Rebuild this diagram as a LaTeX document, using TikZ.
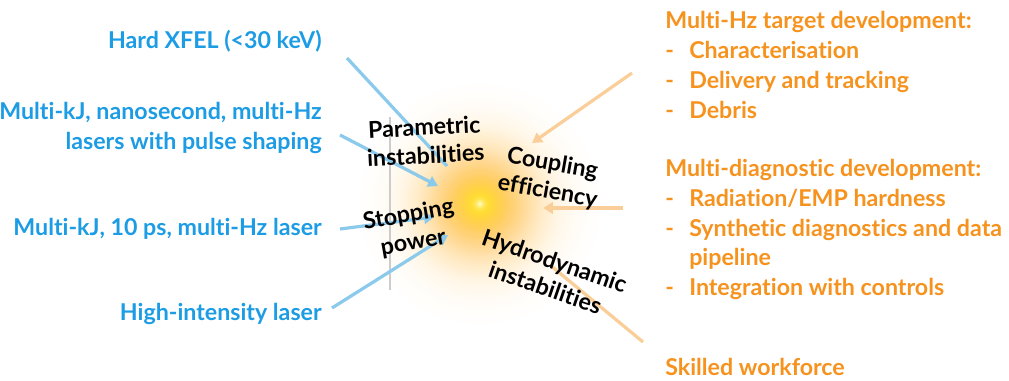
\documentclass[tikz,border=0pt]{standalone}
\usepackage{fontspec}
\setmainfont{Lato}[Ligatures=NoCommon]
\usetikzlibrary{arrows.meta}

\definecolor{labelblue}{RGB}{28,156,228}
\definecolor{beamblue}{RGB}{140,202,236}
\definecolor{labelorange}{RGB}{246,146,30}
\definecolor{beamorange}{RGB}{250,206,152}
\definecolor{glowcore}{RGB}{255,226,40}
\definecolor{glowedge}{RGB}{255,186,60}

\newcommand{\listdash}{\makebox[0.6cm][l]{-}}

\tikzset{
  driver/.style={font=\fontsize{16.5}{21.3}\selectfont\bfseries, text=labelblue,
    align=right, anchor=east, inner sep=0pt},
  need/.style={font=\fontsize{16.5}{21.3}\selectfont\bfseries, text=labelorange,
    align=left, anchor=west, inner sep=0pt},
  physics/.style={font=\fontsize{16.5}{20}\selectfont\bfseries, text=black,
    align=center, inner sep=0pt},
  bluebeam/.style={beamblue, line width=2.3pt},
  orangebeam/.style={beamorange, line width=2.3pt},
  beamtip/.style={-{Triangle[length=7pt,width=8pt]}}
}

\begin{document}
\begin{tikzpicture}[x=0.025cm, y=-0.025cm]
  \useasboundingbox (0,0) rectangle (1009,381);

  % hot spot: rings from the outside in, yellow core turning orange, white in the very middle
  \foreach \r in {120,118,...,2} {
    \pgfmathtruncatemacro\p{100*exp(-(\r/57)^2)*(1-0.75*exp(-(\r/5)^2))}
    \pgfmathtruncatemacro\q{100*exp(-(\r/22)^2)}
    \fill[glowcore!\q!glowedge!\p!white] (480,204) circle (\r);
  }
  \draw[gray!40, line width=0.9pt] (390,117) coordinate (axtop) -- (390,290) coordinate (axbot);

  % drivers (left)
  \node[driver] (xfel) at (322,41) {Hard XFEL (<30 keV)};
  \node[driver] (nslaser) at (322,128) {Multi-kJ, nanosecond, multi-Hz\\lasers with pulse shaping};
  \node[driver] (pslaser) at (322,229) {Multi-kJ, 10 ps, multi-Hz laser};
  \node[driver] (hilaser) at (322,314) {High-intensity laser};

  % needs (right)
  \node[need] (targets) at (665,65) {Multi-Hz target development:\\
    \listdash Characterisation\\\listdash Delivery and tracking\\\listdash Debris};
  \node[need] (diagnostics) at (665,229.5) {Multi-diagnostic development:\\
    \listdash Radiation/EMP hardness\\\listdash Synthetic diagnostics and data\\
    \hspace*{0.6cm}pipeline\\\listdash Integration with controls};
  \node[need] (workforce) at (665,367) {Skilled workforce};

  % beam ends
  \coordinate (xfelA) at (347,58);   \coordinate (xfelB) at (447,166);
  \coordinate (nsA) at (340,135);    \coordinate (nsB) at (438,186);
  \coordinate (psA) at (340,229);    \coordinate (psB) at (434,217);
  \coordinate (hiA) at (332,308);    \coordinate (hiB) at (448,235);
  \coordinate (tgA) at (632,73);     \coordinate (tgB) at (532,143);
  \coordinate (dgA) at (623,208);    \coordinate (dgB) at (543,208);
  \coordinate (wfA) at (643,342);    \coordinate (wfB) at (550,265);

  \draw[bluebeam] (xfelA) -- (xfelB);
  \draw[bluebeam, beamtip] (nsA) -- (nsB);
  \draw[bluebeam, beamtip] (psA) -- (psB);
  \draw[bluebeam, beamtip] (hiA) -- (hiB);
  \draw[orangebeam, beamtip] (tgA) -- (tgB);
  \draw[orangebeam, beamtip] (dgA) -- (dgB);
  \draw[orangebeam] (wfA) -- (wfB);

  % physics around the hot spot
  \node[physics, rotate=3] (parametric) at (425,141) {Parametric\\instabilities};
  \node[physics, rotate=-10] (coupling) at (550,178) {Coupling\\efficiency};
  \node[physics, rotate=10] (stopping) at (411,229) {Stopping\\power};
  \node[physics, rotate=-19] (hydro) at (550,274) {Hydrodynamic\\instabilities};
\end{tikzpicture}
\end{document}
